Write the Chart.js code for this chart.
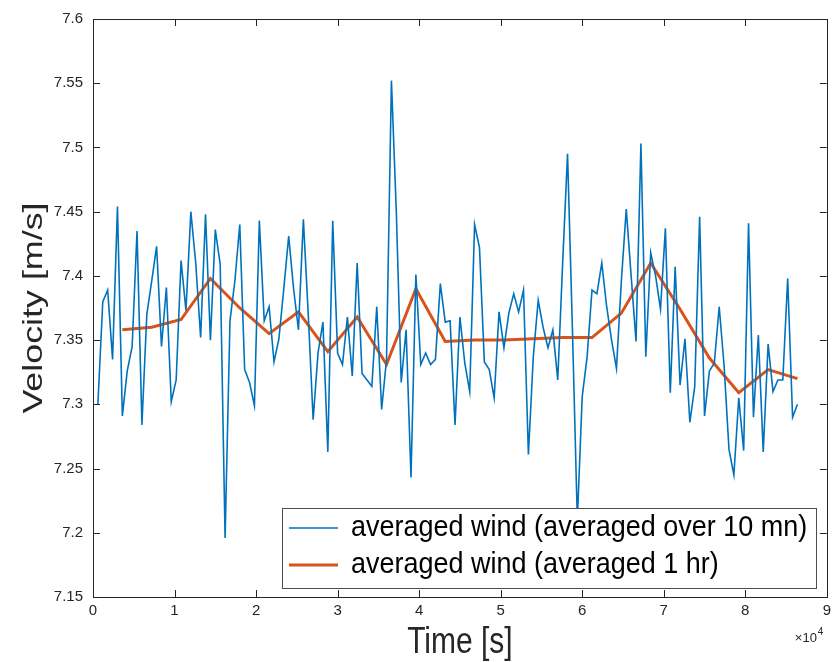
<!DOCTYPE html>
<html>
<head>
<meta charset="utf-8">
<script src="https://cdn.jsdelivr.net/npm/chart.js@4.4.1/dist/chart.umd.min.js"></script>
<style>
  html, body { margin: 0; padding: 0; background: #ffffff; }
  #c { display: block; }
</style>
</head>
<body>
<canvas id="c" width="836" height="662"></canvas>
<script>
// ---- data ----
const sampleStepS = 600;     // 10-minute averages
const hourStepS = 3600;      // 1-hour averages
const wind10min = [
  7.300, 7.380, 7.389, 7.335, 7.454, 7.291, 7.326, 7.345, 7.435, 7.284,
  7.370, 7.396, 7.423, 7.345, 7.391, 7.302, 7.319, 7.412, 7.373, 7.450,
  7.410, 7.352, 7.448, 7.350, 7.436, 7.409, 7.196, 7.365, 7.396, 7.440,
  7.327, 7.317, 7.299, 7.443, 7.365, 7.376, 7.333, 7.351, 7.390, 7.431,
  7.390, 7.358, 7.444, 7.370, 7.288, 7.340, 7.364, 7.263, 7.443, 7.340,
  7.331, 7.368, 7.322, 7.410, 7.324, 7.319, 7.314, 7.376, 7.296, 7.335,
  7.552, 7.450, 7.317, 7.358, 7.243, 7.401, 7.331, 7.340, 7.331, 7.335,
  7.394, 7.364, 7.365, 7.284, 7.368, 7.332, 7.310, 7.440, 7.422, 7.333,
  7.327, 7.305, 7.372, 7.344, 7.371, 7.386, 7.372, 7.389, 7.261, 7.337,
  7.381, 7.360, 7.344, 7.358, 7.319, 7.410, 7.495, 7.358, 7.210, 7.306,
  7.337, 7.389, 7.386, 7.410, 7.376, 7.350, 7.328, 7.396, 7.452, 7.400,
  7.349, 7.503, 7.337, 7.418, 7.400, 7.374, 7.437, 7.309, 7.407, 7.315,
  7.351, 7.286, 7.314, 7.446, 7.291, 7.326, 7.332, 7.376, 7.330, 7.265,
  7.245, 7.305, 7.264, 7.441, 7.290, 7.354, 7.263, 7.347, 7.310, 7.319,
  7.319, 7.398, 7.290, 7.300
];
const wind1hr = [
  7.358, 7.360, 7.366, 7.398, 7.375, 7.355, 7.372, 7.341, 7.368, 7.331,
  7.390, 7.349, 7.350, 7.350, 7.351, 7.352, 7.352, 7.371, 7.410, 7.374,
  7.336, 7.309, 7.327, 7.320
];
const seriesLabels = [
  'averaged wind (averaged over 10 mn)',
  'averaged wind (averaged 1 hr)'
];
const xTickValues = [0, 1, 2, 3, 4, 5, 6, 7, 8, 9];           // ×10^4 s
const yTickValues = [7.15, 7.2, 7.25, 7.3, 7.35, 7.4, 7.45, 7.5, 7.55, 7.6];
const xTitle = 'Time [s]';
const yTitle = 'Velocity [m/s]';

// ---- build points ----
const pts10 = wind10min.map((v, i) => ({ x: (i + 1) * sampleStepS, y: v }));
const pts1h = wind1hr.map((v, i) => ({ x: (i + 1) * hourStepS, y: v }));

const BLUE = '#0072BD';
const ORANGE = '#D95319';
const AXIS = '#262626';
const FONT = "'Liberation Sans', Arial, Helvetica, sans-serif";

const boxPlugin = {
  id: 'matlabBox',
  afterDatasetsDraw(chart) {
    const { ctx } = chart;
    ctx.save();
    // legend box
    const lx = 282, ly = 508, lw = 534, lh = 80;
    ctx.fillStyle = '#ffffff';
    ctx.fillRect(lx, ly, lw, lh);
    ctx.strokeStyle = '#4d4d4d';
    ctx.lineWidth = 1;
    ctx.strokeRect(lx + 0.5, ly + 0.5, lw, lh);
    const rows = [ly + 20, ly + 57];
    const cols = [BLUE, ORANGE];
    const widths = [1.6, 3];
    ctx.textBaseline = 'middle';
    ctx.textAlign = 'left';
    for (let i = 0; i < 2; i++) {
      ctx.strokeStyle = cols[i];
      ctx.lineWidth = widths[i];
      ctx.beginPath();
      ctx.moveTo(lx + 7, rows[i]);
      ctx.lineTo(lx + 56, rows[i]);
      ctx.stroke();
      ctx.save();
      ctx.translate(lx + 69, rows[i]);
      ctx.scale(1, 1.12);
      ctx.font = '27px ' + FONT;
      ctx.fillStyle = '#000000';
      ctx.fillText(seriesLabels[i], 0, 0);
      ctx.restore();
    }
    ctx.restore();
  },
  afterDraw(chart) {
    const { ctx, chartArea: a, scales } = chart;
    ctx.save();
    ctx.strokeStyle = AXIS;
    ctx.lineWidth = 1;
    ctx.strokeRect(Math.round(a.left) + 0.5, Math.round(a.top) + 0.5,
                   Math.round(a.right - a.left), Math.round(a.bottom - a.top));
    const tl = 7;
    ctx.beginPath();
    xTickValues.forEach(v => {
      const px = Math.round(scales.x.getPixelForValue(v * 10000)) + 0.5;
      ctx.moveTo(px, a.bottom); ctx.lineTo(px, a.bottom - tl);
      ctx.moveTo(px, a.top); ctx.lineTo(px, a.top + tl);
    });
    yTickValues.forEach(v => {
      const py = Math.round(scales.y.getPixelForValue(v)) + 0.5;
      ctx.moveTo(a.left, py); ctx.lineTo(a.left + tl, py);
      ctx.moveTo(a.right, py); ctx.lineTo(a.right - tl, py);
    });
    ctx.stroke();

    // axis titles (slightly stretched like the reference rendering)
    ctx.fillStyle = AXIS;
    ctx.textAlign = 'center';
    ctx.textBaseline = 'middle';
    ctx.save();
    ctx.translate(34, (a.top + a.bottom) / 2);
    ctx.rotate(-Math.PI / 2);
    ctx.scale(1.28, 1);
    ctx.font = '28px ' + FONT;
    ctx.fillText(yTitle, 0, 0);
    ctx.restore();

    ctx.save();
    ctx.translate((a.left + a.right) / 2, 643);
    ctx.scale(1, 1.2);
    ctx.font = '30px ' + FONT;
    ctx.fillText(xTitle, 0, 0);
    ctx.restore();

    // exponent label
    ctx.textBaseline = 'alphabetic';
    ctx.textAlign = 'left';
    ctx.font = '13px ' + FONT;
    ctx.fillText('\u00d710', a.right - 32, a.bottom + 45);
    ctx.font = '10px ' + FONT;
    ctx.fillText('4', a.right - 9, a.bottom + 38);
    ctx.restore();
  }
};

new Chart(document.getElementById('c'), {
  type: 'line',
  data: {
    datasets: [
      { label: seriesLabels[0], data: pts10, borderColor: BLUE, borderWidth: 1.6,
        pointRadius: 0, tension: 0, fill: false },
      { label: seriesLabels[1], data: pts1h, borderColor: ORANGE, borderWidth: 3,
        pointRadius: 0, tension: 0, fill: false }
    ]
  },
  options: {
    responsive: false,
    animation: false,
    devicePixelRatio: 1,
    layout: { padding: { top: 14, right: 8, left: 0, bottom: 0 } },
    plugins: { legend: { display: false }, tooltip: { enabled: false } },
    scales: {
      x: {
        type: 'linear', min: 0, max: 90000,
        afterBuildTicks: s => { s.ticks = xTickValues.map(v => ({ value: v * 10000 })); },
        ticks: { callback: v => String(v / 10000), font: { size: 15, family: FONT },
                 color: AXIS, padding: 5, maxRotation: 0 },
        grid: { display: false, drawTicks: false, tickLength: 0 },
        border: { display: false },
        title: { display: false },
        afterFit: s => { s.height = 65; }
      },
      y: {
        type: 'linear', min: 7.15, max: 7.6,
        afterBuildTicks: s => { s.ticks = yTickValues.map(v => ({ value: v })); },
        ticks: { callback: v => String(Number(v.toFixed(2))), font: { size: 15, family: FONT },
                 color: AXIS, padding: 10 },
        grid: { display: false, drawTicks: false, tickLength: 0 },
        border: { display: false },
        title: { display: false },
        afterFit: s => { s.width = 93; }
      }
    }
  },
  plugins: [boxPlugin]
});
</script>
</body>
</html>
